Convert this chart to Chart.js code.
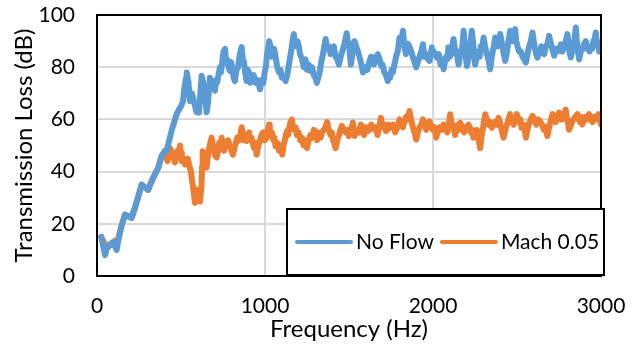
<!DOCTYPE html>
<html>
<head>
<meta charset="utf-8">
<script src="https://cdn.jsdelivr.net/npm/chart.js@4/dist/chart.umd.min.js"></script>
<style>
    html, body { margin: 0; padding: 0; background: #fff; }
    #wrap { width: 632px; height: 345px; }
</style>
</head>
<body>
<div id="wrap"><canvas id="tlChart" width="632" height="345"></canvas></div>
<script>
// Series labels
const seriesNames = ['No Flow', 'Mach 0.05'];

// No Flow: frequency (Hz) and transmission loss (dB)
const noFlowFreq = [
    25, 35, 48, 60, 75, 95, 110, 117, 125, 145, 167, 185, 206, 230, 266, 285, 304, 330, 365, 385,
    405, 414, 430, 445, 460, 474, 490, 500, 512, 520, 530, 534, 545, 553, 565, 580, 593, 607, 615, 623,
    632, 645, 652, 660, 672, 685, 702,
    708, 715, 723, 732, 738, 745, 753, 762, 768, 775,
    783, 791, 798, 805, 813, 821, 830, 840, 850, 861,
    868, 875, 882, 890, 897, 905, 912, 920, 932, 945,
    958, 970, 980, 990, 998, 1005, 1012, 1018, 1025, 1033,
    1040, 1048, 1055, 1063, 1073, 1083, 1092, 1100, 1112, 1123,
    1132, 1140, 1150, 1160, 1166, 1172, 1178, 1185, 1193, 1202,
    1208, 1215, 1224, 1232, 1241, 1250, 1260, 1271, 1280, 1290,
    1300, 1309, 1317, 1325, 1335, 1345, 1353, 1361, 1370, 1380,
    1390, 1400, 1410, 1420, 1430, 1440, 1450, 1460, 1473, 1486,
    1493, 1500, 1505, 1511, 1522, 1533, 1543, 1553, 1562, 1570,
    1577, 1583, 1592, 1600, 1610, 1620, 1631, 1642, 1648, 1655,
    1663, 1672, 1682, 1692, 1700, 1710, 1720, 1731, 1738, 1745,
    1753, 1761, 1770, 1780, 1790, 1801, 1811, 1821, 1830, 1839,
    1850, 1860, 1870, 1880, 1890, 1900, 1910, 1920, 1930, 1940,
    1950, 1960, 1970, 1979, 1986, 1993, 1999, 2005, 2014, 2023,
    2034, 2045, 2054, 2063, 2070, 2078, 2085, 2092, 2100, 2108,
    2115, 2122, 2130, 2137, 2145, 2152, 2160, 2167, 2175, 2182,
    2187, 2192, 2197, 2202, 2210, 2217, 2224, 2231, 2236, 2241,
    2246, 2251, 2260, 2270, 2278, 2285, 2293, 2301, 2310, 2320,
    2330, 2340, 2348, 2355, 2362, 2370, 2378, 2385, 2392, 2400,
    2408, 2415, 2422, 2430, 2438, 2445, 2452, 2459, 2467, 2475,
    2482, 2489, 2496, 2503, 2508, 2513, 2523, 2533, 2543, 2553,
    2562, 2572, 2582, 2592, 2600, 2607, 2614, 2622, 2630, 2637,
    2645, 2652, 2662, 2672, 2682, 2691, 2698, 2706, 2714, 2721,
    2731, 2741, 2751, 2761, 2770, 2780, 2790, 2800, 2805, 2810,
    2815, 2820, 2828, 2835, 2843, 2850, 2855, 2860, 2865, 2870,
    2880, 2890, 2900, 2909, 2917, 2925, 2932, 2939, 2947, 2955,
    2962, 2969, 2975, 2980, 2985, 2989, 2995, 3000
];
const noFlowTL = [
    15, 12, 8, 11, 12, 13, 11, 10, 13, 19, 23.5, 23, 22.3, 27, 35, 34, 33, 37, 41.5, 46,
    48, 48, 52, 56, 59, 62, 64, 65, 67, 72, 76, 78, 74, 67, 70, 66, 62.7, 62.6, 70, 76.7,
    74, 68, 62.7, 66, 76, 74, 71,
    75, 74, 77, 80, 78, 82, 86, 87, 82, 83,
    80, 78.6, 82, 80, 76, 74.7, 79, 80, 85, 87.7,
    83, 82, 78, 74.7, 79, 78, 74, 75, 77, 74,
    75, 71.5, 75, 74, 78, 80, 85, 87, 90, 88,
    84, 85, 87, 84, 80, 78, 79, 76, 76, 74.7,
    77, 80, 84, 88, 91, 92.7, 88, 89, 90, 88,
    85, 84, 82, 80, 83, 79, 81, 78.6, 80, 77,
    76, 74, 76, 78, 82, 85, 88, 90.8, 87, 88,
    85, 86, 88, 84, 83, 81, 84, 86, 89, 93,
    90, 89, 85, 81, 86, 90, 88, 86, 84, 82,
    80, 78, 79, 80, 79, 82, 84, 83.7, 81, 82,
    84, 85, 83, 80.5, 81, 78, 77, 74.7, 77, 76,
    79, 78, 81, 84, 86, 91.4, 89, 94, 88, 85,
    89, 88, 86, 84, 82, 79.9, 82, 84, 86, 88.8,
    84, 85, 83, 82.4, 85, 87.6, 85, 86, 85, 83.7,
    85, 81, 83, 79.2, 82, 84, 83, 87.6, 84, 85,
    88, 90.8, 87, 86, 84, 81, 84, 86, 88, 94,
    90, 86, 83, 80.5, 83, 86, 90, 94, 91, 88,
    84, 81, 84, 86, 84, 88, 87, 91.4, 88, 85,
    83, 79.2, 83, 86, 88, 91.4, 89, 88, 90, 92.7,
    90, 87, 85, 82.4, 85, 88, 91, 94, 91, 90,
    92, 94.6, 90, 88, 87, 86, 86, 84, 83, 81.8,
    85, 88, 90, 93.3, 90, 87, 85, 83.7, 85, 86,
    88, 86, 85, 88, 89, 92, 90, 88, 86, 84.4,
    87, 86, 87, 88.8, 86, 88, 90, 92.7, 90, 87,
    85, 83.7, 86, 88, 91, 95.2, 91, 88, 85, 83,
    86, 87, 89, 90, 87, 88, 86, 88, 87, 90,
    91, 93.3, 90, 88, 89, 86, 88, 89
];

// Mach 0.05: frequency (Hz) and transmission loss (dB)
const machFreq = [
    25, 40, 66, 85, 107, 125, 145, 167, 185, 206, 230, 266, 285, 304, 330, 365, 385, 405,
    412, 420, 428, 435, 442, 450, 457, 464, 472, 480,
    487, 494, 500, 505, 515, 524, 532, 540, 547, 553,
    559, 565, 574, 583, 589, 595, 600, 605, 609, 613,
    618, 622, 626, 629, 635, 640, 646, 652, 660, 668,
    675, 682, 690, 697, 705, 712, 720, 727, 735, 742,
    749, 756, 763, 771, 780, 790, 800, 809, 822, 835,
    848, 861, 868, 875, 882, 890, 897, 905, 912, 920,
    927, 935, 942, 950, 960, 970, 979, 988, 999, 1010,
    1017, 1024, 1028, 1033, 1041, 1050, 1056, 1063, 1073, 1083,
    1093, 1103, 1110, 1118, 1124, 1131, 1138, 1145, 1152, 1160,
    1167, 1175, 1182, 1190, 1200, 1210, 1220, 1230, 1240, 1250,
    1260, 1270, 1280, 1291, 1300, 1310, 1320, 1331, 1340, 1350,
    1360, 1369, 1380, 1390, 1398, 1405, 1412, 1420, 1430, 1440,
    1449, 1458, 1469, 1480, 1490, 1500, 1512, 1523, 1528, 1533,
    1541, 1550, 1560, 1571, 1580, 1590, 1601, 1612, 1622, 1632,
    1642, 1652, 1661, 1670, 1680, 1690, 1697, 1705, 1712, 1720,
    1727, 1735, 1742, 1750, 1762, 1775, 1788, 1801, 1810, 1820,
    1830, 1840, 1850, 1860, 1870, 1880, 1890, 1900, 1910, 1920,
    1930, 1940, 1950, 1960, 1970, 1979, 1990, 2000, 2010, 2019,
    2030, 2040, 2052, 2063, 2074, 2085, 2094, 2102, 2110, 2118,
    2125, 2132, 2140, 2148, 2155, 2162, 2173, 2185, 2198, 2211,
    2218, 2226, 2233, 2241, 2250, 2260, 2270, 2281, 2288, 2296,
    2303, 2311, 2320, 2330, 2340, 2350, 2360, 2370, 2380, 2390,
    2398, 2405, 2412, 2420, 2430, 2440, 2450, 2459, 2470, 2480,
    2490, 2499, 2506, 2512, 2520, 2527, 2533, 2540, 2546, 2553,
    2562, 2570, 2581, 2592, 2603, 2615, 2626, 2637, 2648, 2660,
    2670, 2681, 2688, 2695, 2703, 2711, 2720, 2730, 2740, 2750,
    2760, 2770, 2780, 2790, 2795, 2800, 2805, 2810, 2822, 2835,
    2848, 2860, 2867, 2875, 2882, 2889, 2900, 2910, 2920, 2929,
    2940, 2950, 2960, 2969, 2977, 2985, 2992, 3000
];
const machTL = [
    15, 13, 11, 12, 13.5, 14, 19, 23.5, 23, 22.3, 27, 35, 34, 33, 37, 41.5, 46, 47.8,
    46, 44, 47, 49, 48, 46, 45, 43.5, 46, 48,
    47, 50, 47, 44, 45, 42.7, 44, 45, 43, 41.5,
    40, 37, 33, 28, 31, 33, 31, 30, 29, 28.6,
    32, 35, 42, 47.8, 45, 44, 43, 41.5, 46, 49,
    51, 53, 50, 48, 46, 45.4, 48, 51, 50, 53,
    50, 48, 51, 49.7, 52, 50, 48, 46.5, 50, 53,
    52, 57, 54, 52, 54, 51.7, 53, 55, 52, 53,
    51, 49, 51, 46.5, 50, 52, 54, 55, 52, 53,
    56, 58, 56, 54, 55, 52, 53, 49.7, 51, 48,
    50, 46.5, 50, 52, 54, 55.5, 54, 57, 59, 60,
    57, 56, 57, 54, 55, 52, 53, 50, 52, 49,
    52, 54, 53, 56, 55, 52, 55, 53, 55, 56,
    57, 59, 56, 54, 55, 52, 51, 49, 52, 54,
    56, 57.5, 56, 55, 56, 53.6, 56, 58.8, 56, 53.6,
    55, 56, 55, 58, 57, 54, 57, 55.5, 56, 58,
    57, 56.2, 57, 54, 57, 60.6, 58, 57, 58, 55.5,
    56, 58, 57, 56.8, 58, 55, 57, 60, 58, 57,
    59, 61, 60, 63.2, 60, 57, 55, 52.3, 55, 57,
    58, 60, 58, 56, 58, 59.2, 57, 56, 57, 53,
    56, 57, 56, 58, 57, 55, 58, 62, 59, 57,
    56, 54, 56, 58, 56, 58.7, 57, 55, 57, 58,
    57, 55, 56, 53, 55, 56, 53, 49, 53, 56,
    59, 62, 60, 58, 59, 56.8, 58, 59, 58, 60.6,
    59, 57, 55, 53, 56, 58, 60, 62, 59, 58,
    60, 62, 60, 59, 60, 56.8, 57, 58, 56, 53,
    56, 58, 60, 61.3, 60, 58, 60, 59.3, 58, 56,
    57, 53.6, 56, 58, 60, 62, 60, 59, 61, 62.6,
    60, 60, 62, 63.8, 61, 60, 58, 56, 58, 60,
    61, 62, 60, 59, 61, 58, 60, 61, 60, 62,
    60, 59, 61, 60, 61, 62, 60, 58
];

// Axis ticks
const xTicks = [0, 1000, 2000, 3000];
const yTicks = [0, 20, 40, 60, 80, 100];

const seriesColors = ['#5b9bd5', '#ed7d31'];

function toPoints(xs, ys) {
    return xs.map((x, i) => ({ x: x, y: ys[i] }));
}

// Plot frame and boxed legend, drawn over the data like the original
const frameAndLegend = {
    id: 'frameAndLegend',
    afterDatasetsDraw(chart) {
        const { ctx, chartArea } = chart;
        ctx.save();
        ctx.strokeStyle = '#000';
        ctx.lineWidth = 2;
        ctx.strokeRect(chartArea.left, chartArea.top, chartArea.right - chartArea.left, chartArea.bottom - chartArea.top);

        // legend box
        const box = { left: 287, top: 209, right: 604, bottom: 275 };
        ctx.fillStyle = '#fff';
        ctx.fillRect(box.left, box.top, box.right - box.left, box.bottom - box.top);
        ctx.strokeRect(box.left, box.top, box.right - box.left, box.bottom - box.top);

        ctx.font = '21px Lato';
        ctx.textBaseline = 'middle';
        ctx.textAlign = 'left';
        const midY = 242;
        let x = 297;
        chart.data.datasets.forEach((ds) => {
            ctx.strokeStyle = ds.borderColor;
            ctx.lineWidth = 4;
            ctx.lineCap = 'round';
            ctx.beginPath();
            ctx.moveTo(x, midY);
            ctx.lineTo(x + 54, midY);
            ctx.stroke();
            x += 59;
            ctx.fillStyle = '#000';
            ctx.fillText(ds.label, x, midY);
            x += ctx.measureText(ds.label).width + 8;
        });
        ctx.restore();
    }
};

const ctx = document.getElementById('tlChart');
Chart.defaults.font.family = 'Lato';
Chart.defaults.color = '#000';

new Chart(ctx, {
    type: 'line',
    data: {
        datasets: [
            {
                label: seriesNames[0],
                data: toPoints(noFlowFreq, noFlowTL),
                borderColor: seriesColors[0],
                borderWidth: 6,
                pointRadius: 0,
                tension: 0,
                borderJoinStyle: 'round',
                borderCapStyle: 'round'
            },
            {
                label: seriesNames[1],
                data: toPoints(machFreq, machTL),
                borderColor: seriesColors[1],
                borderWidth: 6,
                pointRadius: 0,
                tension: 0,
                borderJoinStyle: 'round',
                borderCapStyle: 'round'
            }
        ]
    },
    options: {
        responsive: false,
        animation: false,
        layout: {
            padding: { top: 15, right: 31, left: 0, bottom: 0 }
        },
        plugins: {
            legend: { display: false },
            tooltip: { enabled: false }
        },
        scales: {
            x: {
                type: 'linear',
                min: 0,
                max: 3000,
                afterBuildTicks: (scale) => { scale.ticks = xTicks.map(v => ({ value: v })); },
                afterFit: (scale) => {
                    scale.height = 69;
                    scale.paddingLeft = 0;
                    scale.paddingRight = 0;
                },
                grid: { color: '#d9d9d9', lineWidth: 2, drawTicks: false },
                border: { display: false },
                ticks: {
                    font: { size: 21 },
                    padding: 18,
                    maxRotation: 0,
                    callback: (value) => String(value)
                },
                title: {
                    display: true,
                    text: 'Frequency (Hz)',
                    font: { size: 24 },
                    padding: { top: 0, bottom: 1 }
                }
            },
            y: {
                min: 0,
                max: 100,
                afterBuildTicks: (scale) => { scale.ticks = yTicks.map(v => ({ value: v })); },
                afterFit: (scale) => {
                    scale.width = 97;
                    scale.paddingTop = 0;
                    scale.paddingBottom = 0;
                },
                grid: { color: '#d9d9d9', lineWidth: 2, drawTicks: false },
                border: { display: false },
                ticks: {
                    font: { size: 21 },
                    padding: 22,
                    callback: (value) => String(value)
                },
                title: {
                    display: true,
                    text: 'Transmission Loss (dB)',
                    font: { size: 24 },
                    padding: { top: 10, bottom: 0 }
                }
            }
        }
    },
    plugins: [frameAndLegend]
});
</script>
</body>
</html>
